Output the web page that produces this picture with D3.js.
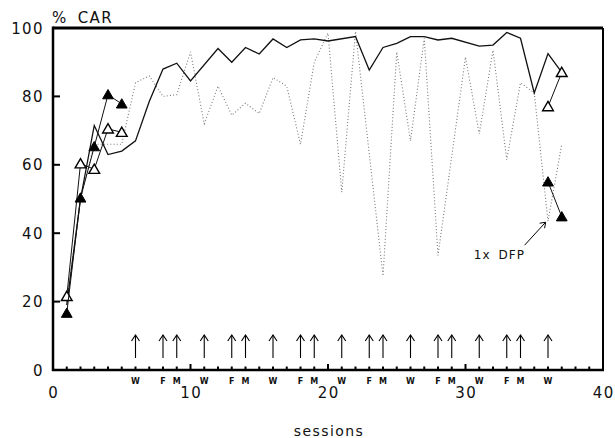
<!DOCTYPE html>
<html lang="en">
<head>
    <meta charset="utf-8">
    <title>% CAR by session</title>
    <script src="https://d3js.org/d3.v7.min.js"></script>
    <style>
        body { margin: 0; background: #fff; }
        svg { display: block; }
        .tick-label { font-family: "DejaVu Sans", sans-serif; font-size: 15px; letter-spacing: 1.4px; fill: #111; }
        .day-label { font-family: "DejaVu Sans", sans-serif; font-size: 8px; font-weight: bold; fill: #111; }
        .note { font-family: "DejaVu Sans", sans-serif; font-size: 12px; letter-spacing: 1px; fill: #111; }
    </style>
</head>
<body>
    <div id="chart"></div>
    <script>
        // solid line (group mean)
        var solidSessions = [1, 2, 3, 4, 5, 6, 7, 8, 9, 10, 12, 13, 14, 15, 16, 17, 18, 19, 20, 22, 23, 24, 25, 26, 27, 28, 29, 31, 32, 33, 34, 35, 36, 37];
        var solidValues   = [19, 50, 71.5, 63, 64, 67, 78.5, 88, 89.7, 84.5, 94, 90, 94.3, 92.4, 96.8, 94.3, 96.5, 96.8, 96.2, 97.5, 87.7, 94.3, 95.5, 97.5, 97.5, 96.5, 97, 94.7, 95, 98.7, 97, 81, 92.5, 87];

        // dotted line
        var dottedSessions = [1, 2, 3, 4, 5, 6, 7, 8, 9, 10, 11, 12, 13, 14, 15, 16, 17, 18, 19, 20, 21, 22, 24, 25, 26, 27, 28, 30, 31, 32, 33, 34, 35, 36, 37];
        var dottedValues   = [20, 50, 66, 66, 66, 84, 86, 80, 80.5, 93, 72, 83, 74.5, 78, 75, 85.5, 83, 66, 90, 98.5, 52, 99, 27.5, 93, 67, 97, 33.5, 91.5, 69, 93.5, 61.5, 84, 81, 43.5, 66];

        // filled triangles (two runs)
        var filledSessions = [[1, 2, 3, 4, 5], [36, 37]];
        var filledValues   = [[16.6, 50.3, 65.3, 80.5, 77.8], [55, 44.8]];

        // open triangles (two runs)
        var openSessions = [[1, 2, 3, 4, 5], [36, 37]];
        var openValues   = [[21.5, 60.3, 58.7, 70.5, 69.5], [77, 87]];

        // treatment arrows along the bottom
        var arrowSessions = [6, 8, 9, 11, 13, 14, 16, 18, 19, 21, 23, 24, 26, 28, 29, 31, 33, 34, 36];
        var arrowLabels   = ["W", "F", "M", "W", "F", "M", "W", "F", "M", "W", "F", "M", "W", "F", "M", "W", "F", "M", "W"];

        var xTicks = [0, 10, 20, 30, 40];
        var yTicks = [0, 20, 40, 60, 80, 100];
        var minorTicks = [1, 2, 3, 4, 5, 6, 7, 8, 9, 10, 11, 12, 13, 14, 15, 16, 17, 18, 19, 20, 21, 22, 23, 24, 25, 26, 27, 28, 29, 30, 31, 32, 33, 34, 35, 36, 37, 38, 39];

        var width = 615, height = 438;
        var margin = {top: 28, right: 12, bottom: 68, left: 53};

        var svg = d3.select("#chart").append("svg")
            .attr("width", width)
            .attr("height", height);

        var x = d3.scaleLinear().domain([0, 40]).range([margin.left, width - margin.right]);
        var y = d3.scaleLinear().domain([0, 100]).range([height - margin.bottom, margin.top]);

        function zip(xs, vs) {
            return xs.map(function(s, i) { return [s, vs[i]]; });
        }

        var line = d3.line()
            .x(function(d) { return x(d[0]); })
            .y(function(d) { return y(d[1]); });

        // frame
        svg.append("line").attr("x1", x(0)).attr("x2", x(40)).attr("y1", y(100)).attr("y2", y(100))
            .attr("stroke", "#000").attr("stroke-width", 3);
        svg.append("line").attr("x1", x(40)).attr("x2", x(40)).attr("y1", y(100)).attr("y2", y(0))
            .attr("stroke", "#000").attr("stroke-width", 2);
        svg.append("line").attr("x1", x(0)).attr("x2", x(0)).attr("y1", y(100) - 1.5).attr("y2", y(0) + 1)
            .attr("stroke", "#000").attr("stroke-width", 2.5);
        svg.append("line").attr("x1", x(0) - 1).attr("x2", x(40) + 1).attr("y1", y(0)).attr("y2", y(0))
            .attr("stroke", "#000").attr("stroke-width", 2.5);

        // y ticks (inward)
        svg.selectAll(".ytick").data(yTicks).enter().append("line")
            .attr("x1", x(0)).attr("x2", x(0) + 7)
            .attr("y1", function(d) { return y(d); }).attr("y2", function(d) { return y(d); })
            .attr("stroke", "#000").attr("stroke-width", 2);
        svg.selectAll(".ylab").data(yTicks).enter().append("text")
            .attr("class", "tick-label")
            .attr("x", x(0) - 9)
            .attr("y", function(d) { return y(d) + 5.5; })
            .attr("text-anchor", "end")
            .text(function(d) { return d; });

        var title = svg.append("text").attr("class", "tick-label")
            .attr("x", x(0) - 1).attr("y", y(100) - 5);
        title.append("tspan").text("%");
        title.append("tspan").attr("dx", 10).text("CAR");

        // x minor ticks (upward)
        svg.selectAll(".xtick").data(minorTicks).enter().append("line")
            .attr("x1", function(d) { return x(d); }).attr("x2", function(d) { return x(d); })
            .attr("y1", y(0)).attr("y2", function(d) { return y(0) - (d % 10 === 0 ? 6 : 3.5); })
            .attr("stroke", "#000").attr("stroke-width", 2);
        svg.selectAll(".xlab").data(xTicks).enter().append("text")
            .attr("class", "tick-label")
            .attr("x", function(d) { return x(d) + 0.7; })
            .attr("y", y(0) + 28)
            .attr("text-anchor", "middle")
            .text(function(d) { return d; });

        svg.append("text").attr("class", "tick-label")
            .attr("x", x(20) + 1).attr("y", height - 2)
            .attr("text-anchor", "middle")
            .style("font-size", "14px")
            .style("letter-spacing", "1.4px")
            .text("sessions");

        // treatment arrows
        var arrows = svg.append("g").attr("stroke", "#000").attr("stroke-width", 1.1).attr("fill", "none");
        arrowSessions.forEach(function(s) {
            var ax = x(s), top = y(0) - 35, bot = y(0) - 12;
            arrows.append("line").attr("x1", ax).attr("x2", ax).attr("y1", top).attr("y2", bot);
            arrows.append("path").attr("d", "M" + (ax - 4) + "," + (top + 6) + "L" + ax + "," + top + "L" + (ax + 4) + "," + (top + 6));
        });
        svg.selectAll(".day").data(arrowSessions).enter().append("text")
            .attr("class", "day-label")
            .attr("x", function(d) { return x(d); })
            .attr("y", y(0) + 14)
            .attr("text-anchor", "middle")
            .text(function(d, i) { return arrowLabels[i]; });

        // dotted series
        svg.append("path").datum(zip(dottedSessions, dottedValues))
            .attr("d", line).attr("fill", "none")
            .attr("stroke", "#777").attr("stroke-width", 1.1)
            .attr("stroke-dasharray", "1,2.2");

        // solid series
        svg.append("path").datum(zip(solidSessions, solidValues))
            .attr("d", line).attr("fill", "none")
            .attr("stroke", "#111").attr("stroke-width", 1.3);

        // triangle series
        var tri = d3.symbol().type(d3.symbolTriangle).size(50);

        function triSeries(sessList, valList, filled) {
            sessList.forEach(function(sess, k) {
                var pts = zip(sess, valList[k]);
                svg.append("path").datum(pts)
                    .attr("d", line).attr("fill", "none")
                    .attr("stroke", "#111").attr("stroke-width", 1);
                svg.selectAll(null).data(pts).enter().append("path")
                    .attr("d", tri)
                    .attr("transform", function(d) { return "translate(" + x(d[0]) + "," + (y(d[1]) + 1) + ")"; })
                    .attr("fill", filled ? "#000" : "#fff")
                    .attr("stroke", "#000")
                    .attr("stroke-width", filled ? 1 : 1.4);
            });
        }
        triSeries(openSessions, openValues, false);
        triSeries(filledSessions, filledValues, true);

        // annotation
        var tip = [35.9, 43.5];
        svg.append("line")
            .attr("x1", x(34.3)).attr("y1", y(36.5))
            .attr("x2", x(tip[0]) - 1).attr("y2", y(tip[1]) + 1)
            .attr("stroke", "#000").attr("stroke-width", 1);
        svg.append("path")
            .attr("d", "M" + (x(tip[0]) - 7) + "," + (y(tip[1]) + 2) + "L" + (x(tip[0]) - 1) + "," + (y(tip[1]) + 1) + "L" + (x(tip[0]) - 2) + "," + (y(tip[1]) + 7))
            .attr("fill", "none").attr("stroke", "#000").attr("stroke-width", 1);
        var note = svg.append("text").attr("class", "note")
            .attr("x", x(30.6)).attr("y", y(32.6));
        note.append("tspan").text("1x");
        note.append("tspan").attr("dx", 8).text("DFP");
    </script>
</body>
</html>
